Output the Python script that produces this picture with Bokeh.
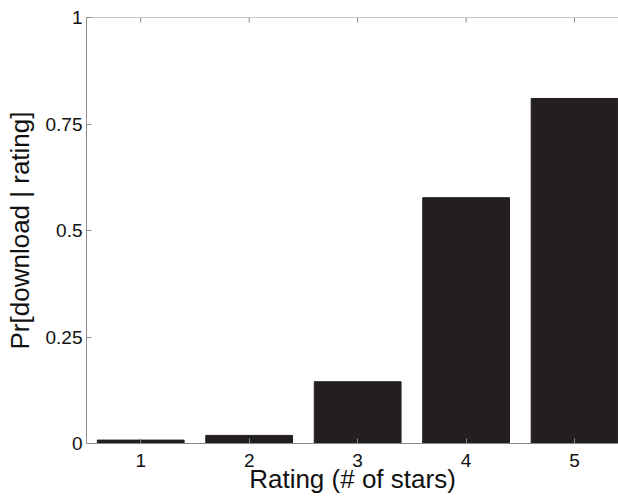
from bokeh.plotting import figure
from bokeh.models import FixedTicker, Range1d, Span
from bokeh.embed import file_html
from bokeh.resources import INLINE

ratings = [1, 2, 3, 4, 5]
prob = [0.008, 0.019, 0.145, 0.577, 0.810]
y_ticks = [0, 0.25, 0.5, 0.75, 1]
y_labels = {0: "0", 0.25: "0.25", 0.5: "0.5", 0.75: "0.75", 1: "1"}

FONT = "Liberation Sans"
AX = "#8a8a8a"

p = figure(width=618, height=497, output_backend="svg", toolbar_location=None,
           x_range=Range1d(0.5, 5.405), y_range=Range1d(0, 1),
           min_border_left=86, min_border_top=17, min_border_bottom=54, min_border_right=0,
           x_axis_label="Rating (# of stars)", y_axis_label="Pr[download | rating]")
p.outline_line_color = None
p.grid.visible = False

p.vbar(x=ratings, top=prob, width=0.8, fill_color="#231f20", line_color="#231f20")

for ax in (p.xaxis[0], p.yaxis[0]):
    ax.axis_line_color = AX
    ax.major_tick_line_color = AX
    ax.major_tick_in = 5
    ax.major_tick_out = 0
    ax.minor_tick_line_color = None
    ax.major_label_text_font = FONT
    ax.major_label_text_font_size = "19px"
    ax.major_label_text_color = "#111111"
    ax.axis_label_text_font = FONT
    ax.axis_label_text_font_size = "26px"
    ax.axis_label_text_font_style = "normal"
    ax.axis_label_text_color = "#111111"

p.xaxis[0].ticker = FixedTicker(ticks=ratings)
p.xaxis[0].major_label_standoff = 10
p.xaxis[0].axis_label_standoff = -6
p.yaxis[0].ticker = FixedTicker(ticks=y_ticks)
p.yaxis[0].major_label_overrides = y_labels
p.yaxis[0].major_label_standoff = 4
p.yaxis[0].axis_label_standoff = 8

# top border with inward ticks (as in the original box axes)
p.add_layout(Span(location=1, dimension="width", line_color=AX, line_width=1))
p.segment(x0=ratings, x1=ratings, y0=[1] * len(ratings), y1=[0.988] * len(ratings),
          line_color=AX, line_width=1)

open("out.html", "w").write(file_html(p, INLINE))
